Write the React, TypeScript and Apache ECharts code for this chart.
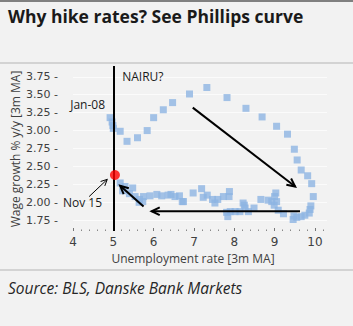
import React, { useEffect, useRef } from "react";
import * as echarts from "echarts";

const titleText = "Why hike rates? See Phillips curve";
const sourceText = "Source: BLS, Danske Bank Markets";
const xAxisTitle = "Unemployment rate [3m MA]";
const yAxisTitle = "Wage growth % y/y [3m MA]";

const xTicks = [4, 5, 6, 7, 8, 9, 10];
const yTicks = [1.75, 2.0, 2.25, 2.5, 2.75, 3.0, 3.25, 3.5, 3.75];

// unemployment rate (x), wage growth (y), Jan-08 .. Nov-15
const unemployment = [
  4.92, 4.97, 4.99, 5.0, 5.17, 5.34, 5.6, 5.84, 6.0, 6.24, 6.47, 6.89, 7.32,
  7.82, 8.29, 8.69, 9.05, 9.32, 9.49, 9.56, 9.66, 9.82, 9.92, 9.96, 9.9, 9.88,
  9.86, 9.75, 9.66, 9.55, 9.46, 9.48, 9.22, 9.09, 9.05, 9.03, 9.0, 8.99, 8.93,
  8.84, 8.66, 8.49, 8.35, 8.25, 8.22, 8.27, 8.14, 8.02, 7.9, 7.84, 7.81, 7.88,
  7.87, 7.73, 7.59, 7.52, 7.46, 7.33, 7.23, 7.19, 6.98, 6.74, 6.71, 6.64, 6.53,
  6.43, 6.36, 6.2, 6.08, 5.91, 5.75, 5.73, 5.65, 5.64, 5.54, 5.48, 5.4, 5.29,
  5.23, 5.17,
];
const wageGrowth = [
  3.18, 3.12, 3.07, 3.03, 2.99, 2.85, 2.9, 3.0, 3.18, 3.29, 3.39, 3.51, 3.6,
  3.46, 3.31, 3.19, 3.06, 2.95, 2.74, 2.59, 2.45, 2.37, 2.26, 2.08, 1.95, 1.9,
  1.85, 1.82, 1.8, 1.79, 1.76, 1.81, 1.84, 1.89, 2.01, 2.13, 2.08, 1.96, 2.01,
  2.03, 2.04, 1.92, 1.87, 1.96, 1.99, 1.92, 1.87, 1.87, 1.87, 1.8, 1.86, 2.15,
  2.08, 2.08, 2.04, 1.99, 2.04, 2.1, 2.07, 2.19, 2.13, 2.01, 2.01, 2.09, 2.08,
  2.11, 2.1, 2.09, 2.11, 2.09, 2.08, 2.01, 2.04, 2.0, 2.08, 2.2, 2.12, 2.22,
  2.16, 2.27,
];
const latestPoint = [5.04, 2.38]; // Nov 15

const nairu = 5;

// arrows: [x1, y1, x2, y2, lineWidth]
const arrows = [
  [6.97, 3.32, 9.51, 2.22, 2],
  [9.63, 1.875, 5.95, 1.875, 2],
  [5.75, 1.94, 5.17, 2.23, 2],
  [4.4, 2.08, 4.85, 2.32, 1],
];

const annotations = [
  { text: "NAIRU?", x: 5.22, y: 3.76 },
  { text: "Jan-08", x: 3.93, y: 3.37 },
  { text: "Nov 15", x: 3.75, y: 2.0 },
];

const FONT = "'Open Sans', sans-serif";
const NUMFONT = "'DejaVu Sans', sans-serif";

export default function App() {
  const ref = useRef<HTMLDivElement>(null);
  useEffect(() => {
    if (!ref.current) return;
    const chart = echarts.init(ref.current, undefined, { renderer: "svg" });
    const scatterData = unemployment.map((u, i) => [u, wageGrowth[i]]);
    chart.setOption({
      animation: false,
      backgroundColor: "#f2f2f2",
      textStyle: { fontFamily: FONT },
      grid: { left: 73, top: 66, width: 254, height: 165, outerBoundsMode: "none", containLabel: false },
      xAxis: {
        type: "value",
        min: 4,
        max: 10.3,
        name: xAxisTitle,
        nameLocation: "middle",
        nameGap: 15,
        nameTextStyle: { fontSize: 12, color: "#404040", fontFamily: FONT, padding: [0, 14, 0, 0] },
        axisLine: { show: false },
        axisTick: { show: true, inside: true, length: 3, customValues: xTicks, lineStyle: { color: "#777" } },
        minorTick: { show: true, splitNumber: 5, length: 1.5, lineStyle: { color: "#888" } },
        axisLabel: { customValues: xTicks, fontSize: 12, color: "#404040", margin: 5, fontFamily: NUMFONT },
        splitLine: { show: false },
      },
      yAxis: {
        type: "value",
        min: 1.6,
        max: 3.9,
        axisLine: { show: false },
        axisTick: { show: false, customValues: yTicks },
        axisLabel: {
          customValues: yTicks,
          fontSize: 11,
          color: "#404040",
          margin: 15,
          fontFamily: NUMFONT,
          formatter: (v: number) => v.toFixed(2) + " -",
        },
        splitLine: { show: true, lineStyle: { color: "#fbfbfb", width: 1 } },
      },
      graphic: [
        { type: "line", shape: { x1: 0, y1: 1, x2: 353, y2: 1 }, style: { stroke: "#808080", lineWidth: 2 } },
        { type: "line", shape: { x1: 0, y1: 63, x2: 353, y2: 63 }, style: { stroke: "#c8c8c8", lineWidth: 1.5 } },
        { type: "line", shape: { x1: 0, y1: 270, x2: 353, y2: 270 }, style: { stroke: "#c8c8c8", lineWidth: 1.5 } },
        {
          type: "text",
          x: 8,
          y: 16,
          style: { text: titleText, fontSize: 17.5, fontWeight: "bold", fill: "#1a1a1a", fontFamily: FONT, verticalAlign: "middle" },
        },
        {
          type: "text",
          x: 15,
          y: 149,
          rotation: Math.PI / 2,
          style: { text: yAxisTitle, fontSize: 12, fill: "#404040", fontFamily: FONT, align: "center", verticalAlign: "middle" },
        },
        {
          type: "text",
          x: 8,
          y: 288,
          style: { text: sourceText, fontSize: 15.5, fontStyle: "italic", fill: "#262626", fontFamily: FONT, verticalAlign: "middle" },
        },
      ],
      series: [
        {
          type: "scatter",
          data: scatterData,
          symbol: "rect",
          symbolSize: 7,
          itemStyle: { color: "#8db4e2" },
          markLine: {
            silent: true,
            symbol: ["none", "none"],
            label: { show: false },
            lineStyle: { color: "#000", width: 2, type: "solid" },
            data: [{ xAxis: nairu }],
          },
          z: 2,
        },
        {
          type: "scatter",
          data: [latestPoint],
          symbol: "circle",
          symbolSize: 10,
          itemStyle: { color: "#ff0000" },
          z: 5,
        },
        {
          type: "custom",
          data: arrows,
          encode: { x: [0, 2], y: [1, 3] },
          clip: false,
          z: 4,
          renderItem: (params: any, api: any) => {
            const p1 = api.coord([api.value(0), api.value(1)]);
            const p2 = api.coord([api.value(2), api.value(3)]);
            const w = api.value(4);
            const ang = Math.atan2(p2[1] - p1[1], p2[0] - p1[0]);
            const L = w > 1 ? 9 : 7;
            const a = Math.PI / 7;
            const h1 = [p2[0] - L * Math.cos(ang - a), p2[1] - L * Math.sin(ang - a)];
            const h2 = [p2[0] - L * Math.cos(ang + a), p2[1] - L * Math.sin(ang + a)];
            return {
              type: "group",
              children: [
                { type: "line", shape: { x1: p1[0], y1: p1[1], x2: p2[0], y2: p2[1] }, style: { stroke: "#000", lineWidth: w } },
                { type: "polyline", shape: { points: [h1, p2, h2] }, style: { stroke: "#000", fill: "none", lineWidth: w } },
              ],
            };
          },
        },
        {
          type: "custom",
          data: annotations.map((a) => [a.x, a.y]),
          clip: false,
          z: 6,
          renderItem: (params: any, api: any) => {
            const an = annotations[params.dataIndex];
            const p = api.coord([api.value(0), api.value(1)]);
            return {
              type: "text",
              x: p[0],
              y: p[1],
              style: { text: an.text, fontSize: 12, fill: "#1a1a1a", fontFamily: FONT, align: "left", verticalAlign: "middle" },
            };
          },
        },
      ],
    });
    return () => chart.dispose();
  }, []);
  return <div ref={ref} style={{ position: "fixed", left: 0, top: 0, width: 353, height: 326 }} />;
}
